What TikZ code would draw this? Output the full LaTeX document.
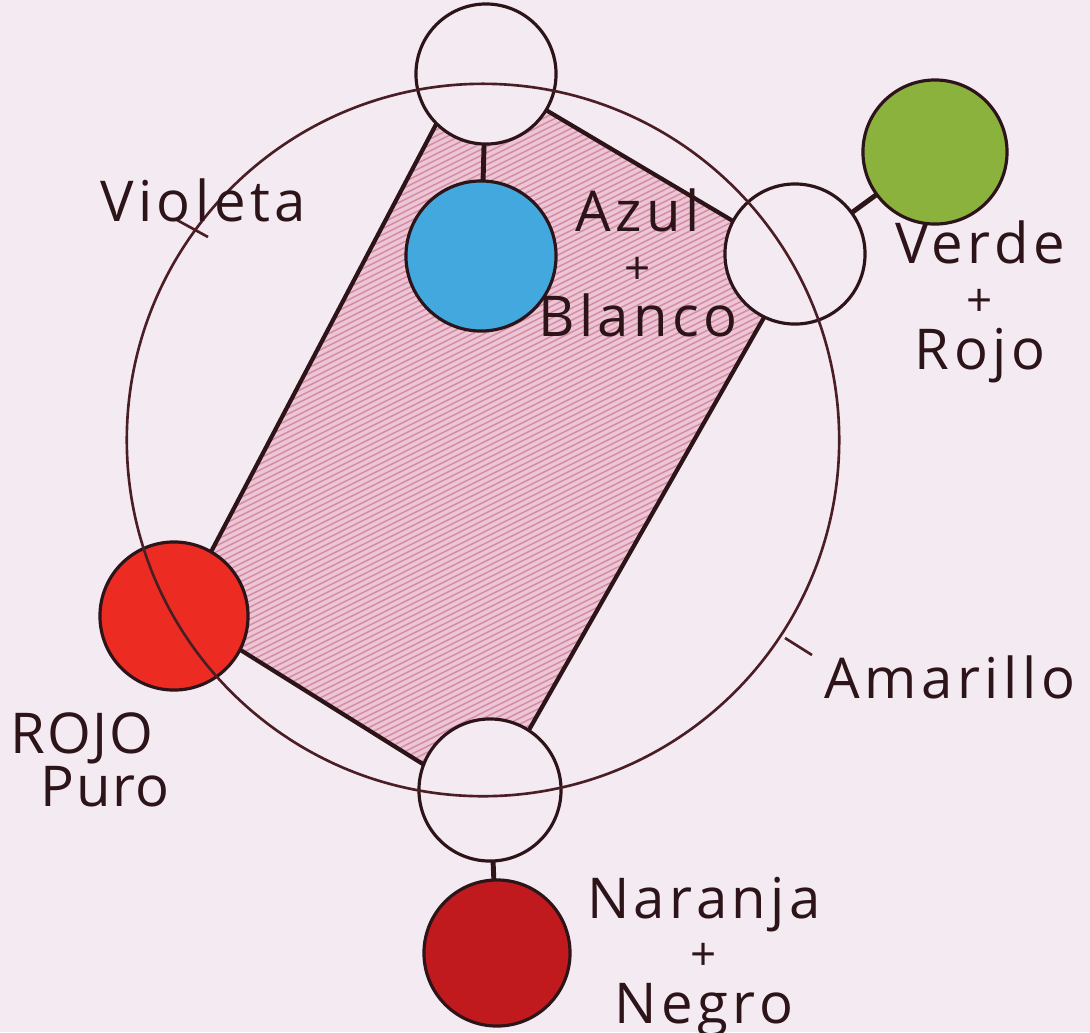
\documentclass[tikz,border=0pt]{standalone}
\usepackage{fontspec}
\setmainfont{Open Sans}[LetterSpace=8]
\usepackage{xcolor}
\usetikzlibrary{backgrounds,positioning}
\definecolor{paper}{RGB}{244,234,242}
\definecolor{ink}{RGB}{45,20,25}
\definecolor{brownink}{RGB}{75,30,38}
\definecolor{washpink}{RGB}{235,198,213}
\definecolor{hatchpink}{RGB}{214,138,166}
\definecolor{rojopuro}{RGB}{236,44,34}
\definecolor{azulclaro}{RGB}{66,168,222}
\definecolor{verdeoliva}{RGB}{140,178,62}
\definecolor{naranjaneg}{RGB}{192,26,30}
\newcommand{\mas}{{\fontsize{13}{15}\selectfont +}}

\begin{document}
\begin{tikzpicture}[x=0.01cm, y=-0.01cm,
  disc/.style={circle, draw=ink, line width=0.9pt, inner sep=0pt, outer sep=0pt},
  blank/.style={disc, fill=paper},
  side/.style={draw=ink, line width=1.2pt},
  link/.style={draw=ink, line width=1.4pt},
  ring/.style={draw=brownink, line width=0.75pt},
  notch/.style={draw=brownink, line width=0.75pt},
  wash/.style={fill=washpink},
  hatch/.style={draw=hatchpink, line width=0.4pt},
  lbl/.style={text=ink, font=\fontsize{16}{15}\selectfont, inner sep=0pt}]
\useasboundingbox (0,0) rectangle (1090,1032);

% the four mixing points and the colour samples
\node[blank, minimum size=1.4cm] (wTop) at (486,74) {};
\node[blank, minimum size=1.4cm] (wRight) at (795,254) {};
\node[blank, minimum size=1.42cm] (wBottom) at (490,790) {};
\node[disc, fill=rojopuro, minimum size=1.48cm] (rojo) at (174,616) {};
\node[disc, fill=azulclaro, minimum size=1.5cm] (azul) at (481,256) {};
\node[disc, fill=verdeoliva, minimum size=1.44cm] (verde) at (935,152) {};
\node[disc, fill=naranjaneg, minimum size=1.46cm] (naranja) at (497,953) {};

\begin{pgfonlayer}{background}
\fill[paper] (0,0) rectangle (1090,1032);
\begin{scope}
\clip (wTop.225) -- (wTop.-31) -- (wRight.152) -- (wRight.244) -- (wBottom.57)
  -- (wBottom.159) -- (rojo.-27) -- (rojo.60) -- cycle;
\fill[wash] (0,0) rectangle (1090,1032);
\foreach \c in {330,336,...,1000} \draw[hatch] (150,\c-75) -- (850,\c-425);
\end{scope}
\end{pgfonlayer}

% colour circle
\draw[ring] (483,440) circle[radius=3.56cm];
\draw[notch] (177,220) -- (208,237);
\draw[notch] (785,638) -- (812,655);

% sides of the shaded field
\foreach \i/\j in {wTop.225/rojo.60, wTop.-31/wRight.152, wRight.244/wBottom.57, wBottom.159/rojo.-27}
  \draw[side] (\i) -- (\j);
\foreach \i/\j in {wTop/azul, wRight/verde, wBottom/naranja}
  \draw[link] (\i) -- (\j);

\node[lbl] (tViol) at (203,200) {Violeta};
\node[lbl, align=center] (tAzul) at (638,263) {Azul\\\mas\\Blanco};
\node[lbl, align=center] (tVerde) at (980,302) {Verde\\\mas\\Rojo};
\node[lbl] (tAmar) at (950,677) {Amarillo};
\node[lbl, align=left, anchor=north west, font=\fontsize{16}{15}\selectfont\addfontfeatures{LetterSpace=3}] (tRojo) at (10,712) {ROJO\\\hspace{0.3cm}Puro};
\node[lbl, align=center] (tNar) at (704,957) {Naranja\\\mas\\Negro};
\end{tikzpicture}
\end{document}
